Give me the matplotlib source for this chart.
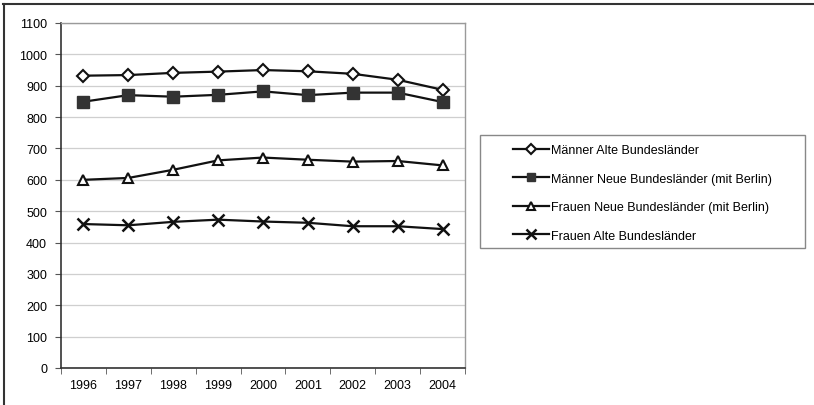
import matplotlib
matplotlib.use("Agg")
import matplotlib.pyplot as plt
from matplotlib.lines import Line2D
from matplotlib.patches import Rectangle

years = ["1996", "1997", "1998", "1999", "2000", "2001", "2002", "2003", "2004"]
maenner_alte = [932, 934, 941, 945, 950, 946, 938, 919, 887]
maenner_neue = [849, 870, 865, 871, 882, 870, 878, 878, 848]
frauen_neue = [600, 606, 632, 662, 671, 664, 658, 660, 646]
frauen_alte = [459, 455, 466, 473, 467, 463, 452, 452, 443]

labels = ["Männer Alte Bundesländer",
          "Männer Neue Bundesländer (mit Berlin)",
          "Frauen Neue Bundesländer (mit Berlin)",
          "Frauen Alte Bundesländer"]

plt.rcParams['font.family'] = ['Liberation Sans', 'DejaVu Sans']

W, H = 814, 406
fig = plt.figure(figsize=(W / 100, H / 100), dpi=100)
ax = fig.add_axes([61 / W, 1 - 369 / H, (465 - 61) / W, (369 - 24) / H])

x = list(range(len(years)))
lc = "#111111"
lw = 1.6
ax.plot(x, maenner_alte, color=lc, lw=lw, marker="D", ms=6.5, mfc="white", mec=lc, mew=1.5, label=labels[0])
ax.plot(x, maenner_neue, color=lc, lw=lw, marker="s", ms=8, mfc="#333333", mec="#333333", label=labels[1])
ax.plot(x, frauen_neue, color=lc, lw=lw, marker="^", ms=7.5, mfc="white", mec=lc, mew=1.5, label=labels[2])
ax.plot(x, frauen_alte, color=lc, lw=lw, marker="x", ms=9, mec=lc, mew=1.8, label=labels[3])

ax.set_xlim(-0.5, len(years) - 0.5)
ax.set_ylim(0, 1100)
ax.set_yticks(range(0, 1101, 100))
ax.yaxis.grid(True, color="#cfcfcf", lw=0.9)
ax.set_axisbelow(True)
ax.set_xticks(x)
ax.set_xticklabels(years, fontsize=9)
ax.tick_params(axis="x", length=0, pad=8)
ax.set_xticks([i + 0.5 for i in range(-1, len(years))], minor=True)
ax.tick_params(axis="x", which="minor", length=4, direction="out", color="#555555")
ax.tick_params(axis="y", length=4, direction="out", labelsize=9, pad=6, color="#555555")
for s in ["left", "bottom"]:
    ax.spines[s].set_color("#333333")
    ax.spines[s].set_linewidth(1.2)
for s in ["top", "right"]:
    ax.spines[s].set_color("#9a9a9a")
    ax.spines[s].set_linewidth(1.0)

# legend frame
fig.add_artist(Rectangle((480 / W, 1 - 249 / H), 325 / W, 113 / H, transform=fig.transFigure,
                         facecolor="white", edgecolor="#888888", lw=1.0, zorder=1))

leg = fig.legend(loc="upper left",
                 bbox_to_anchor=(513 / W, 1 - 145 / H),
                 fontsize=9, frameon=False, handlelength=2.9, handletextpad=0.15,
                 labelspacing=1.32, borderpad=0.0, borderaxespad=0)
leg.set_zorder(2)
for h in leg.legend_handles:
    h.set_markersize(h.get_markersize() * 0.75)

fig.add_artist(Line2D([3 / W, 1.0], [1 - 5 / H, 1 - 5 / H], color="#333333", lw=1.5, transform=fig.transFigure))
fig.add_artist(Line2D([4 / W, 4 / W], [0, 1 - 5 / H], color="#333333", lw=1.5, transform=fig.transFigure))

fig.savefig("out.png", dpi=100)
